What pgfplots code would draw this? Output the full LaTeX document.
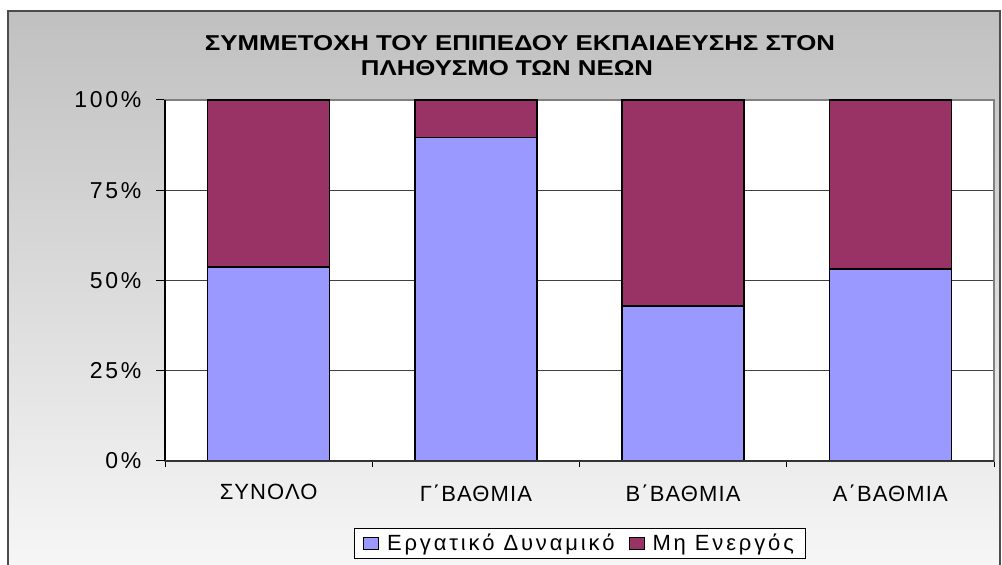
\documentclass[border=0pt]{standalone}
\usepackage{fontspec}
\setmainfont{Liberation Sans}
\newfontfamily\spaced[LetterSpace=5]{Liberation Sans}
\newfontfamily\yspaced[LetterSpace=12]{Liberation Sans}
\newfontfamily\lspaced[LetterSpace=13]{Liberation Sans}
\usepackage{pgfplots}
\pgfplotsset{compat=1.18}
\definecolor{cblue}{RGB}{153,153,255}
\definecolor{cmaroon}{RGB}{153,51,102}
\definecolor{bgtop}{RGB}{192,192,192}
\definecolor{bgbot}{RGB}{250,250,250}
\begin{document}
\begin{tikzpicture}[x=1pt,y=1pt]
\useasboundingbox (0,0) rectangle (1002,565);
\begin{scope}
\clip (0,0) rectangle (1002,565);
\shade[top color=bgtop, bottom color=bgbot] (8,-40) rectangle (1000,554);
\draw[line width=2pt, black!70] (8,-40) rectangle (1000,554);
\end{scope}
\node[font=\bfseries\fontsize{21.5}{24}\selectfont, inner sep=0pt] at (520,522)
  {\scalebox{1.2}[1]{ΣΥΜΜΕΤΟΧΗ ΤΟΥ ΕΠΙΠΕΔΟΥ ΕΚΠΑΙΔΕΥΣΗΣ ΣΤΟΝ}};
\node[font=\bfseries\fontsize{21.5}{24}\selectfont, inner sep=0pt] at (507,497)
  {\scalebox{1.2}[1]{ΠΛΗΘΥΣΜΟ ΤΩΝ ΝΕΩΝ}};
\begin{axis}[
  at={(165pt,104pt)}, anchor=south west,
  scale only axis, width=829pt, height=361pt,
  ybar stacked, bar width=122pt,
  xmin=-0.5, xmax=3.5, ymin=0, ymax=100,
  xtick={0,1,2,3},
  xticklabels={ΣΥΝΟΛΟ, Γ΄ΒΑΘΜΙΑ, Β΄ΒΑΘΜΙΑ, Α΄ΒΑΘΜΙΑ},
  minor xtick={-0.5,0.5,1.5,2.5,3.5},
  ytick={0,25,50,75,100},
  yticklabel={\pgfmathprintnumber{\tick}\%},
  /pgf/number format/assume math mode=true,
  tick align=outside, xtick pos=bottom, ytick pos=left,
  major x tick style={draw=none},
  minor tick length=6pt, major tick length=9pt,
  tick style={black, line width=1pt},
  ymajorgrids, grid style={black!75, line width=1pt},
  axis line style={draw=gray, line width=1.5pt},
  axis background/.style={fill=white},
  xticklabel style={font=\spaced\fontsize{22}{26}\selectfont, yshift=-11pt},
  yticklabel style={font=\yspaced\fontsize{23}{27}\selectfont, xshift=-11pt},
  legend style={at={(0.5,-0.1856)}, anchor=north, legend columns=2,
    draw=black, line width=0.8pt, fill=white,
    font=\lspaced\fontsize{22}{26}\selectfont,
    inner xsep=9pt, inner ysep=4pt,
    /tikz/every odd column/.append style={column sep=6pt},
    /tikz/every even column/.append style={column sep=12pt}},
  legend image code/.code={\draw[#1, line width=1pt] (0pt,-6pt) rectangle (15pt,6pt);},
  every axis plot/.append style={draw=black, line width=1.5pt},
  after end axis/.code={
    \draw[black, line width=1.5pt] (rel axis cs:0,0) -- (rel axis cs:0,1);
    \draw[black!80, line width=1.5pt] (rel axis cs:0,0) -- (rel axis cs:1,0);
  },
]
\addplot[fill=cblue] coordinates {(0,53.7) (1,89.6) (2,43.0) (3,53.2)};
\addplot[fill=cmaroon] coordinates {(0,46.3) (1,10.4) (2,57.0) (3,46.8)};
\legend{Εργατικό Δυναμικό, Μη Ενεργός}
\end{axis}
\end{tikzpicture}
\end{document}
